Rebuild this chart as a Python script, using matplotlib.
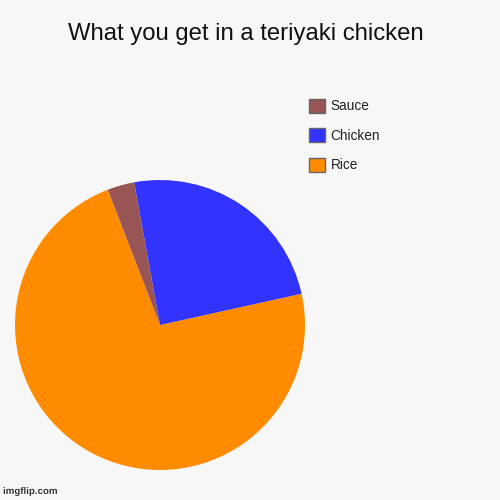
import matplotlib
matplotlib.use("Agg")
import matplotlib.pyplot as plt
from matplotlib.patches import Patch
import matplotlib.patheffects as pe

title = "What you get in a teriyaki chicken"
labels = ["Rice", "Chicken", "Sauce"]
values = [72.6, 24.4, 3.0]
colors = ["#ff8c00", "#3333ff", "#995555"]

plt.rcParams['font.family'] = ['Liberation Sans', 'DejaVu Sans']
bg = "#f7f7f7"
fig = plt.figure(figsize=(5, 5), dpi=100, facecolor=bg)
ax = fig.add_axes([0.03, 0.06, 0.58, 0.58])
ax.set_facecolor(bg)
ax.pie(values, colors=colors, startangle=111.1, counterclock=True,
       radius=1.0, wedgeprops=dict(linewidth=0))
ax.set_xlim(-1, 1)
ax.set_ylim(-1, 1)
ax.set_aspect('equal')
ax.axis('off')

fig.text(0.492, 0.92, title, ha='center', va='baseline', fontsize=17.2, color='#111111')

handles = [Patch(facecolor=c, edgecolor='#666666', linewidth=1) for c in colors]
fs = 9.8
leg = fig.legend(handles[::-1], labels[::-1], loc='upper left',
                 bbox_to_anchor=(309 / 500, 1 - 99 / 500), frameon=False,
                 fontsize=fs, handlelength=1.18, handleheight=1.18,
                 labelspacing=1.1, handletextpad=0.4, borderpad=0,
                 borderaxespad=0)
for t in leg.get_texts():
    t.set_color('#222222')

fig.text(0.006, 0.012, "imgflip.com", fontsize=7, fontweight='bold', color='#333333',
         path_effects=[pe.withStroke(linewidth=1.5, foreground='white')])

fig.savefig("out.png", dpi=100, facecolor=bg)
